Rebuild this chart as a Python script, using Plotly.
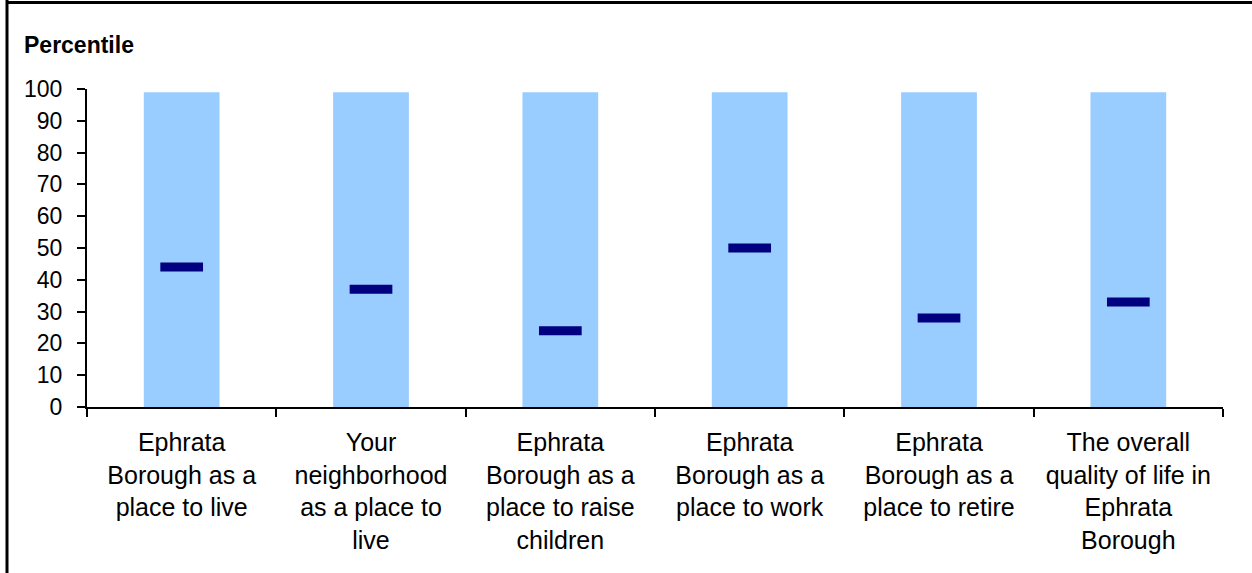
import plotly.graph_objects as go

categories = [
    "Ephrata<br>Borough as a<br>place to live",
    "Your<br>neighborhood<br>as a place to<br>live",
    "Ephrata<br>Borough as a<br>place to raise<br>children",
    "Ephrata<br>Borough as a<br>place to work",
    "Ephrata<br>Borough as a<br>place to retire",
    "The overall<br>quality of life in<br>Ephrata<br>Borough",
]
range_top = [99, 99, 99, 99, 99, 99]
percentile = [44, 37, 24, 50, 28, 33]
y_ticks = list(range(0, 101, 10))

W, H = 1252, 573
L, R, T, B = 87, 29, 89, 166
PW, PH = W - L - R, H - T - B

fig = go.Figure()
fig.add_trace(go.Bar(
    x=categories, y=range_top,
    marker=dict(color="#99CCFF", line=dict(width=0)),
    hoverinfo="skip", showlegend=False,
))
fig.add_trace(go.Scatter(
    x=categories, y=percentile, mode="markers",
    marker=dict(symbol="line-ew", size=30.5, line=dict(width=9, color="#000080"), color="#000080"),
    showlegend=False,
))

font_family = "Arial, Liberation Sans, sans-serif"
fig.update_layout(
    width=W, height=H,
    margin=dict(l=L, r=R, t=T, b=B),
    paper_bgcolor="white", plot_bgcolor="white",
    bargap=0.6,
    font=dict(family=font_family, size=25, color="black"),
    xaxis=dict(
        type="category", showline=True, linecolor="black", linewidth=2,
        ticks="outside", tickson="boundaries", ticklen=8, tickwidth=2, tickcolor="black",
        tickfont=dict(size=25), ticklabelstandoff=12, showgrid=False, zeroline=False,
    ),
    yaxis=dict(
        range=[0, 100], tickvals=y_ticks, showline=True, linecolor="black", linewidth=2,
        ticks="outside", ticklen=8, tickwidth=2, tickcolor="black",
        tickfont=dict(size=23), ticklabelstandoff=10, showgrid=False, zeroline=False,
    ),
    annotations=[dict(
        text="<b>Percentile</b>", xref="paper", yref="paper",
        x=-(L - 22) / PW, y=1 + (T - 45) / PH,
        xanchor="left", yanchor="middle", showarrow=False,
        font=dict(size=23, family=font_family, color="black"),
    )],
    shapes=[
        dict(type="line", xref="paper", yref="paper",
             x0=-(L - 7) / PW, x1=-(L - 7) / PW,
             y0=1 + T / PH, y1=-B / PH, line=dict(color="black", width=3)),
        dict(type="line", xref="paper", yref="paper",
             x0=-(L - 6) / PW, x1=1 + R / PW,
             y0=1 + (T - 2.5) / PH, y1=1 + (T - 2.5) / PH, line=dict(color="black", width=3)),
    ],
)

fig.write_html(
    "out.html",
    config={"displayModeBar": False},
    post_script="document.body.style.margin='0';document.body.style.overflow='hidden';",
)
